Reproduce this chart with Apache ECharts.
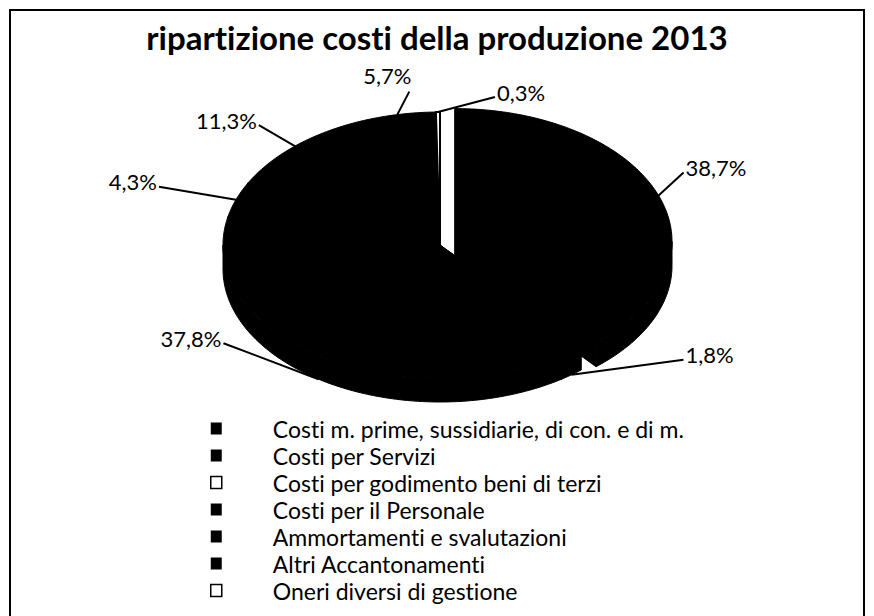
<!DOCTYPE html>
<html>
<head>
<meta charset="utf-8">
<script src="https://cdn.jsdelivr.net/npm/echarts@6/dist/echarts.min.js"></script>
<style>
  html, body { margin: 0; padding: 0; background: #fff; }
  #chart { width: 874px; height: 616px; }
  #chart text { font-variant-ligatures: none; }
</style>
</head>
<body>
<div id="chart"></div>
<script>
// dati
var categories = [
    'Costi m. prime, sussidiarie, di con. e di m.',
    'Costi per Servizi',
    'Costi per godimento beni di terzi',
    'Costi per il Personale',
    'Ammortamenti e svalutazioni',
    'Altri Accantonamenti',
    'Oneri diversi di gestione'
];
var shares = [38.7, 1.8, 37.8, 4.3, 11.3, 5.7, 0.3];
var sliceColors = ['#000', '#000', '#000', '#000', '#000', '#000', '#fff'];
var legendColors = ['#000', '#000', '#fff', '#000', '#000', '#000', '#fff'];

// geometria della torta "3D" (ellisse)
var CX = 440, CY = 245, RX = 217, RY = 133, DEPTH = 24;
var explode = [16, 0, 0, 0, 0, 0, 0];
// spostamento dell'estremo della linea guida rispetto al bordo, lato del testo
var labelShift = [[25, -23, 'right'], [112, -15, 'right'], [-95, -36, 'left'], [-77, -13, 'left'],
                  [-36, -21, 'left'], [12, -23, 'top'], [57, -15, 'right']];

var total = shares.reduce(function (a, b) { return a + b; }, 0);
var starts = [];
var acc = 0;
shares.forEach(function (v) { starts.push(acc); acc += v; });

function rad(deg) { return deg * Math.PI / 180; }

function pt(deg, off, down) {
    return [CX + off[0] + RX * Math.sin(rad(deg)), CY + off[1] - RY * Math.cos(rad(deg)) + (down || 0)];
}

function arc(a, b, off, down) {
    var pts = [];
    var n = Math.max(2, Math.ceil(b - a));
    for (var k = 0; k <= n; k++) {
        pts.push(pt(a + (b - a) * k / n, off, down));
    }
    return pts;
}

function renderSlice(params, api) {
    var i = params.seriesIndex;
    var a0 = starts[i] / total * 360;
    var a1 = (starts[i] + api.value(0)) / total * 360;
    var mid = (a0 + a1) / 2;
    var e = explode[i];
    var off = [e * Math.sin(rad(mid)), -e * Math.cos(rad(mid)) * RY / RX];
    var c = [CX + off[0], CY + off[1]];
    var cd = [c[0], c[1] + DEPTH];
    var children = [];
    var black = { fill: '#000', stroke: '#000', lineWidth: 1 };

    // facce radiali
    [a0, a1].forEach(function (a) {
        var p = pt(a, off);
        children.push({ type: 'polygon', shape: { points: [c, p, [p[0], p[1] + DEPTH], cd] }, style: black });
    });
    // parete laterale (solo la parte frontale)
    var s = Math.max(a0, 90), t = Math.min(a1, 270);
    if (t > s) {
        var top = arc(s, t, off, 0);
        var bottom = arc(s, t, off, DEPTH).reverse();
        children.push({ type: 'polygon', shape: { points: top.concat(bottom) }, style: black });
    }
    // faccia superiore
    children.push({
        type: 'polygon',
        shape: { points: [c].concat(arc(a0, a1, off, 0)) },
        style: { fill: sliceColors[i], stroke: '#000', lineWidth: sliceColors[i] === '#fff' ? 2 : 1 }
    });

    // etichetta con linea guida
    var anchor = pt(mid, off, Math.cos(rad(mid)) < 0 ? DEPTH : 0);
    var sh = labelShift[i];
    var T = [anchor[0] + sh[0], anchor[1] + sh[1]];
    var txt = api.value(0).toFixed(1).replace('.', ',') + '%';
    var tx, ty, align, valign;
    if (sh[2] === 'right') { tx = T[0] + 2; ty = T[1] - 5; align = 'left'; valign = 'middle'; }
    else if (sh[2] === 'left') { tx = T[0] - 2; ty = T[1] - 5; align = 'right'; valign = 'middle'; }
    else { tx = T[0] - 22; ty = T[1] - 5; align = 'center'; valign = 'bottom'; }
    children.push({
        type: 'polyline',
        shape: { points: [anchor, T] },
        style: { stroke: '#000', lineWidth: 2, fill: null }
    });
    children.push({
        type: 'text', x: tx, y: ty,
        style: { text: txt, fill: '#000', fontSize: 22, fontFamily: 'Lato', align: align, verticalAlign: valign }
    });
    return { type: 'group', children: children };
}

var myChart = echarts.init(document.getElementById('chart'), null, { renderer: 'svg' });
var option = {
    backgroundColor: '#fff',
    animation: false,
    title: {
        text: 'ripartizione costi della produzione 2013',
        left: 'center',
        top: 15,
        textStyle: { fontFamily: 'Lato', fontWeight: 'bold', fontSize: 33, color: '#000' }
    },
    legend: {
        orient: 'vertical',
        left: 210,
        top: 415,
        padding: 0,
        itemWidth: 11,
        itemHeight: 12,
        itemGap: 0,
        selectedMode: false,
        textStyle: { fontFamily: 'Lato', fontSize: 23, lineHeight: 27, color: '#000', padding: [0, 0, 0, 46] },
        data: categories.map(function (n, i) {
            return {
                name: n,
                icon: 'rect',
                itemStyle: {
                    color: legendColors[i],
                    borderColor: '#000',
                    borderWidth: legendColors[i] === '#fff' ? 1.5 : 0
                }
            };
        })
    },
    graphic: [{
        type: 'rect',
        shape: { x: 10, y: 10, width: 854, height: 640 },
        style: { fill: null, stroke: '#000', lineWidth: 2 },
        silent: true
    }],
    series: categories.map(function (n, i) {
        return {
            type: 'custom',
            name: n,
            coordinateSystem: 'none',
            itemStyle: { color: sliceColors[i] },
            renderItem: renderSlice,
            data: [[shares[i]]]
        };
    })
};
myChart.setOption(option);
</script>
</body>
</html>
